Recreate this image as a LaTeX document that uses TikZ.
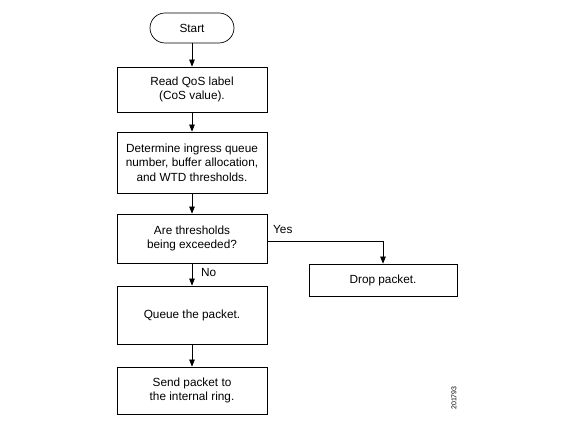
\documentclass[tikz,border=0pt]{standalone}
\usepackage{fontspec}
\setmainfont{Liberation Sans}
\usetikzlibrary{arrows.meta}
\begin{document}
\begin{tikzpicture}[x=1pt,y=-1pt,
  every node/.style={font=\fontsize{11.8}{14.5}\selectfont},
  box/.style={draw, line width=0.7pt, minimum width=150pt, align=center, inner sep=0pt},
  arr/.style={draw, line width=0.7pt, -{Triangle[length=7pt,width=5.5pt]}},
  lbl/.style={inner sep=0pt}]
\useasboundingbox (0,0) rectangle (576,427);
\node[box, minimum width=84pt, minimum height=30pt, rounded corners=15pt] (start) at (192,28) {Start};
\node[box, minimum height=45pt] (read) at (192,89.5) {Read QoS label\\(CoS value).};
\node[box, minimum height=61pt] (det) at (192,162.5) {Determine ingress queue\\number, buffer allocation,\\and WTD thresholds.};
\node[box, minimum height=49pt] (are) at (192,238.5) {Are thresholds\\being exceeded?};
\node[box, minimum height=58pt] (queue) at (192,315) {Queue the packet.};
\node[box, minimum height=47pt] (send) at (192,390.5) {Send packet to\\the internal ring.};
\node[box, minimum width=148pt, minimum height=32pt] (drop) at (383,280) {Drop packet.};
\draw[arr] (start) -- (read);
\draw[arr] (read) -- (det);
\draw[arr] (det) -- (are);
\draw[arr] (are) -- (queue);
\draw[arr] (queue) -- (send);
\coordinate (corner) at (383,241);
\draw[arr] (are.east |- corner) -- (corner) -- (drop.north);
\node[lbl, anchor=west] (yes) at (273,230) {Yes};
\node[lbl, anchor=west] (no) at (201,273) {No};
\node[lbl, rotate=90, font=\fontsize{7}{8}\selectfont] (num) at (454,398) {201793};
\end{tikzpicture}
\end{document}
